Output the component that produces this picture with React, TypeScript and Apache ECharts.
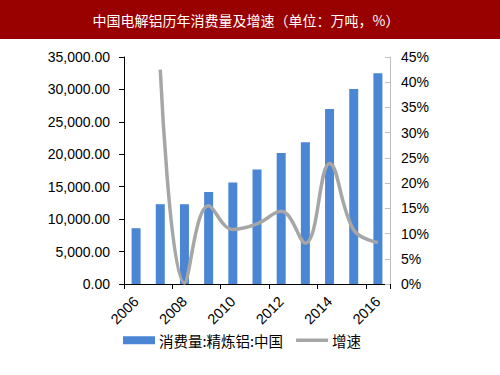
import React, { useEffect, useRef } from "react";
import * as echarts from "echarts";

const years = ["2006", "2007", "2008", "2009", "2010", "2011", "2012", "2013", "2014", "2015", "2016"];
const consumption = [8600, 12300, 12300, 14200, 15650, 17650, 20200, 21850, 27000, 30050, 32500];
const growth: (number | null)[] = [null, 42.5, 0.2, 15.5, 10.8, 11.9, 14.4, 8.1, 23.9, 10.7, 8.2];
const leftTicks = { min: 0, max: 35000, interval: 5000 };
const rightTicks = { min: 0, max: 45, interval: 5 };
const titleText = "中国电解铝历年消费量及增速（单位：万吨，%）";
const seriesNames = ["消费量:精炼铝:中国", "增速"];

export default function App() {
  const ref = useRef<HTMLDivElement>(null);
  useEffect(() => {
    document.body.style.margin = "0";
    const chart = echarts.init(ref.current!, null, { renderer: "svg" });
    const font = "'Liberation Sans', Arial, sans-serif";
    const cjk = "'Noto Sans CJK SC', sans-serif";
    chart.setOption({
      animation: false,
      backgroundColor: "#ffffff",
      textStyle: { fontFamily: font },
      graphic: [
        { type: "rect", shape: { x: 0, y: 0, width: 500, height: 39 }, style: { fill: "#990000" }, z: 0 },
        {
          type: "text",
          x: 246,
          y: 20,
          style: {
            text: titleText,
            fill: "#ffffff",
            fontSize: 14,
            fontFamily: cjk,
            align: "center",
            verticalAlign: "middle",
          },
          z: 1,
        },
      ],
      grid: { left: 124, right: 110, top: 57, bottom: 91, containLabel: false },
      legend: {
        left: 123,
        top: 333,
        padding: 0,
        itemWidth: 32,
        itemHeight: 8,
        itemGap: 13,
        textStyle: { fontSize: 14.5, color: "#000", fontFamily: cjk, padding: [0, 0, 0, -1] },
        data: [
          { name: seriesNames[0], icon: "rect" },
          { name: seriesNames[1], icon: "path://M0 0 H35 V4 H0 Z", itemStyle: { color: "#a6a6a6" } },
        ],
      },
      xAxis: {
        type: "category",
        data: years,
        boundaryGap: true,
        axisLine: { show: true, lineStyle: { color: "#000", width: 1 } },
        axisTick: { show: true, interval: 1, length: 5, alignWithLabel: false, lineStyle: { color: "#000" } },
        axisLabel: { interval: 1, rotate: 45, fontSize: 14.5, color: "#000", margin: 15, fontFamily: font },
      },
      yAxis: [
        {
          type: "value",
          min: leftTicks.min,
          max: leftTicks.max,
          interval: leftTicks.interval,
          splitLine: { show: false },
          axisLine: { show: true, lineStyle: { color: "#000" } },
          axisTick: { show: true, length: 5, lineStyle: { color: "#000" } },
          axisLabel: {
            fontSize: 14,
            color: "#000",
            margin: 14,
            fontFamily: font,
            formatter: (v: number) => v.toLocaleString("en-US", { minimumFractionDigits: 2, maximumFractionDigits: 2 }),
          },
        },
        {
          type: "value",
          position: "right",
          min: rightTicks.min,
          max: rightTicks.max,
          interval: rightTicks.interval,
          splitLine: { show: false },
          axisLine: { show: true, lineStyle: { color: "#bfbfbf" } },
          axisTick: { show: true, inside: true, length: 5, lineStyle: { color: "#bfbfbf" } },
          axisLabel: { fontSize: 14, color: "#000", margin: 11, fontFamily: font, formatter: "{value}%" },
        },
      ],
      series: [
        {
          name: seriesNames[0],
          type: "bar",
          data: consumption,
          barWidth: 9,
          itemStyle: { color: "#4a86d4" },
          yAxisIndex: 0,
        },
        {
          name: seriesNames[1],
          type: "line",
          data: growth,
          yAxisIndex: 1,
          smooth: 0.4,
          showSymbol: false,
          symbol: "none",
          lineStyle: { color: "#a6a6a6", width: 3.5 },
          itemStyle: { color: "#a6a6a6" },
        },
      ],
    });
    return () => chart.dispose();
  }, []);
  return <div ref={ref} style={{ width: 500, height: 375, position: "absolute", left: 0, top: 0 }} />;
}
